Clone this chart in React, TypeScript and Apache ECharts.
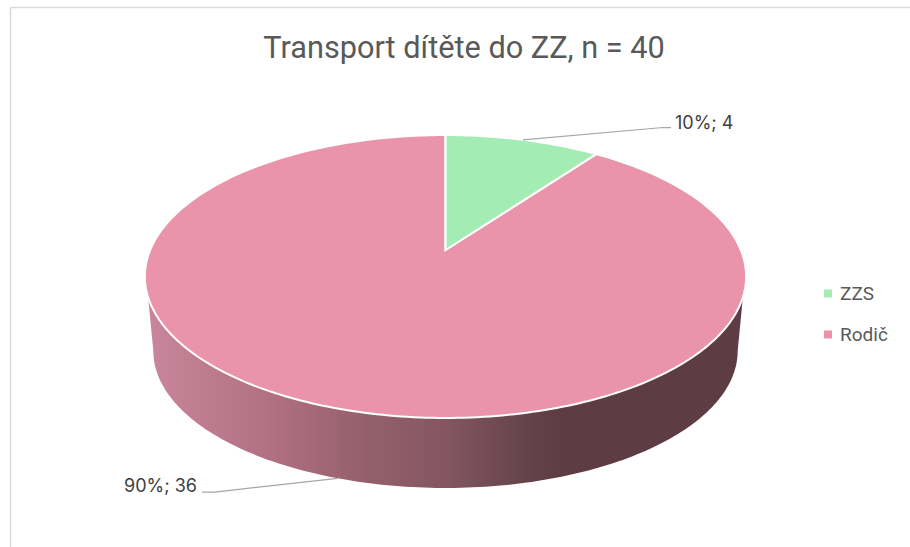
import React, { useEffect, useRef } from "react";
import * as echarts from "echarts";

const categories = ["ZZS", "Rodič"];
const counts = [4, 36];
const sliceColors = ["#a3ecb4", "#ea94ab"];
const titleText = "Transport dítěte do ZZ, n = 40";

const total = counts.reduce((a, b) => a + b, 0);
const rad = Math.PI / 180;

const topFace = { x0: 445.5, y0: 250, a: 136.5, b: 295.3, k: 0.1873 };
const bottomFace = { x0: 445.5, y0: 325.3, a: 132.2, b: 287, k: 0.1873 };

function project(f: typeof topFace, deg: number): number[] {
  const u = Math.sin(deg * rad);
  const v = Math.cos(deg * rad);
  const d = 1 + f.k * v;
  return [f.x0 + (f.b * u) / d, f.y0 - (f.a * v) / d];
}

function arc(f: typeof topFace, from: number, to: number): number[][] {
  const pts: number[][] = [];
  const n = Math.max(2, Math.ceil(Math.abs(to - from)));
  for (let i = 0; i <= n; i++) pts.push(project(f, from + ((to - from) * i) / n));
  return pts;
}

const leaders = [
  { elbow: [663, 127.5], end: [671, 127.5], text: [675, 122], depth: false },
  { elbow: [215, 492], end: [202, 492], text: [124, 485], depth: true },
];

function renderSlice(index: number) {
  return (_params: any, api: any) => {
    const value = api.value(0);
    const before = counts.slice(0, index).reduce((a, b) => a + b, 0);
    const start = (before / total) * 360;
    const end = start + (value / total) * 360;
    const color = sliceColors[index];
    const children: any[] = [];

    const sideFrom = Math.max(start, 108.9);
    const sideTo = Math.min(end, 251.1);
    if (sideTo > sideFrom) {
      children.push({
        type: "polygon",
        shape: {
          points: [
            ...arc(topFace, sideFrom, sideTo),
            ...arc(bottomFace, Math.min(end, 259.2), Math.max(start, 100.8)),
          ],
        },
        style: {
          fill: {
            type: "linear",
            x: 146,
            y: 0,
            x2: 746,
            y2: 0,
            global: true,
            colorStops: [
              { offset: 0, color: "#c9869c" },
              { offset: 0.2, color: "#b27184" },
              { offset: 0.34, color: "#99626f" },
              { offset: 0.507, color: "#825560" },
              { offset: 0.6, color: "#6c4851" },
              { offset: 0.69, color: "#5d3c43" },
              { offset: 1, color: "#5d3c43" },
            ],
          },
        },
      });
    }

    children.push({
      type: "polygon",
      shape: { points: [[topFace.x0, topFace.y0], ...arc(topFace, start, end)] },
      style: { fill: color, stroke: "#ffffff", lineWidth: 2 },
    });

    const mid = (start + end) / 2;
    const leader = leaders[index];
    const anchor = project(leader.depth ? bottomFace : topFace, mid);
    children.push({
      type: "polyline",
      shape: { points: [anchor, leader.elbow, leader.end] },
      style: { fill: "none", stroke: "#a6a6a6", lineWidth: 1.25 },
    });
    children.push({
      type: "text",
      style: {
        text: `${Math.round((value / total) * 100)}%; ${value}`,
        x: leader.text[0],
        y: leader.text[1],
        fill: "#404040",
        font: '18px "Inter"',
        verticalAlign: "middle",
      },
    });
    return { type: "group", children };
  };
}

export default function App() {
  const ref = useRef<HTMLDivElement>(null);
  useEffect(() => {
    document.body.style.margin = "0";
    const chart = echarts.init(ref.current!, undefined, { renderer: "svg" });
    chart.setOption({
      animation: false,
      backgroundColor: "#ffffff",
      color: sliceColors,
      title: {
        text: titleText,
        left: 459,
        top: 27,
        textAlign: "center",
        textStyle: {
          color: "#595959",
          fontFamily: "Roboto",
          fontWeight: "normal",
          fontSize: 30.7,
        },
      },
      legend: {
        orient: "vertical",
        left: 819,
        top: 279,
        icon: "rect",
        itemWidth: 8,
        itemHeight: 8,
        itemGap: 22,
        itemStyle: { borderWidth: 0 },
        data: categories,
        textStyle: { color: "#595959", fontFamily: "Roboto", fontSize: 19, padding: [0, 0, 0, 3] },
      },
      graphic: [
        {
          type: "polyline",
          shape: { points: [[10.5, 547], [10.5, 7.5], [910, 7.5]] },
          style: { fill: "none", stroke: "#d9d9d9", lineWidth: 1.5 },
        },
      ],
      series: categories.map((name, i) => ({
        type: "custom",
        name,
        coordinateSystem: "none",
        itemStyle: { color: sliceColors[i] },
        renderItem: renderSlice(i),
        data: [{ name, value: counts[i] }],
        z: i === 0 ? 3 : 2,
      })),
    });
    return () => chart.dispose();
  }, []);
  return <div ref={ref} style={{ width: 910, height: 547 }} />;
}
